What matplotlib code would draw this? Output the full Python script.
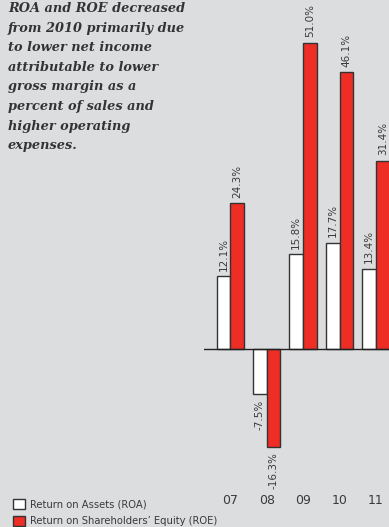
import matplotlib.pyplot as plt
import matplotlib.transforms as mtransforms
from matplotlib.patches import Patch
import numpy as np

# ---- Data ----------------------------------------------------------------
years = ["07", "08", "09", "10", "11"]
roa = [12.1, -7.5, 15.8, 17.7, 13.4]
roe = [24.3, -16.3, 51.0, 46.1, 31.4]
roa_label = "Return on Assets (ROA)"
roe_label = "Return on Shareholders\u2019 Equity (ROE)"
note = ("ROA and ROE decreased\nfrom 2010 primarily due\nto lower net income\n"
        "attributable to lower\ngross margin as a\npercent of sales and\n"
        "higher operating\nexpenses.")

# ---- Style ---------------------------------------------------------------
BG = "#dcdddf"
RED = "#ee2e24"
EDGE = "#333333"
TEXT = "#3a3a3a"
narrow = ["Liberation Sans Narrow", "DejaVu Sans"]

W, H = 389, 527
fig = plt.figure(figsize=(W / 100, H / 100), dpi=100, facecolor=BG)

# axes placed in pixel terms: left edge 204 px, zero line at 349 px
ax_left, ax_bottom, ax_top = 204, 480, 0
ax = fig.add_axes([ax_left / W, (H - ax_bottom) / H, 1 - ax_left / W,
                   (ax_bottom - ax_top) / H])
ax.set_facecolor(BG)
px_per_unit = 6.0
ax.set_ylim(-(ax_bottom - 349) / px_per_unit, (349 - ax_top) / px_per_unit)
ax.set_xlim((ax_left - 230.3) / 36.4, (W - 230.3) / 36.4)
ax.axis("off")

x = np.arange(len(years))
bw = 0.375
b1 = ax.bar(x - bw / 2, roa, bw, color="white", edgecolor=EDGE, lw=1.0, zorder=2)
b2 = ax.bar(x + bw / 2, roe, bw, color=RED, edgecolor=EDGE, lw=1.0, zorder=2)
ax.axhline(0, color="#222222", lw=1.0, zorder=3)

for bars, vals in ((b1, roa), (b2, roe)):
    for bar, v in zip(bars, vals):
        cx = bar.get_x() + bar.get_width() / 2
        if v >= 0:
            ax.annotate(f"{v:.1f}%", (cx, v), xytext=(0, 4),
                        textcoords="offset points", rotation=90,
                        ha="center", va="bottom", fontsize=7.5,
                        color=TEXT, family=narrow)
        else:
            ax.annotate(f"{v:.1f}%", (cx, v),
                        xytext=(0, -4), textcoords="offset points",
                        rotation=90, ha="center", va="top", fontsize=7.5,
                        color=TEXT, family=narrow)

# year labels under the chart
trans = mtransforms.blended_transform_factory(ax.transData, fig.transFigure)
for i, yr in enumerate(years):
    ax.text(x[i], 1 - 500 / H, yr, transform=trans, ha="center",
            va="center", fontsize=9, color=TEXT, family=narrow)

# note text
fig.text(8 / W, 1 - 2 / H, note, ha="left", va="top", fontsize=9.3,
         family="DejaVu Serif", style="italic", weight="bold",
         color="#333333", linespacing=1.66)

# legend
handles = [Patch(facecolor="white", edgecolor=EDGE, lw=1.0, label=roa_label),
           Patch(facecolor=RED, edgecolor=EDGE, lw=1.0, label=roe_label)]
leg = fig.legend(handles=handles, loc="lower left",
                 bbox_to_anchor=(4 / W, -8 / H), frameon=False,
                 handlelength=1.2, handleheight=1.2, handletextpad=0.5,
                 labelspacing=0.6, prop={"family": narrow, "size": 7.2})
for t in leg.get_texts():
    t.set_color(TEXT)

fig.savefig("out.png", dpi=100, facecolor=BG)
